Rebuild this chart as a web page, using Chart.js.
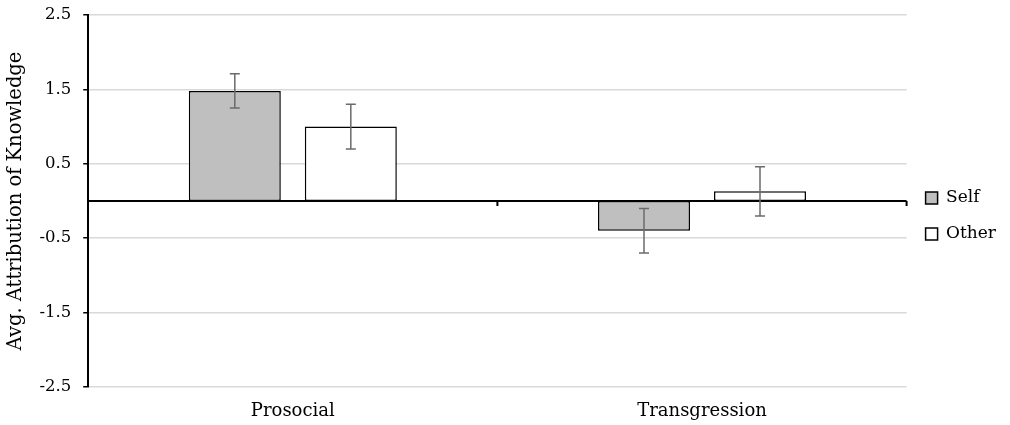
<!DOCTYPE html>
<html>
<head>
<meta charset="utf-8">
<script src="https://cdn.jsdelivr.net/npm/chart.js@4"></script>
<style>
  html, body { margin: 0; padding: 0; background: #fff; }
  #wrap { width: 1010px; height: 425px; }
</style>
</head>
<body>
<div id="wrap"><canvas id="chart"></canvas></div>
<script>
const categories = ['Prosocial', 'Transgression'];
const selfValues = [1.48, -0.40];
const selfErrors = [0.23, 0.30];
const otherValues = [1.00, 0.13];
const otherErrors = [0.30, 0.33];
const yTicks = [-2.5, -1.5, -0.5, 0.5, 1.5, 2.5];

const FONT = "'DejaVu Serif', 'Liberation Serif', serif";

// error bars + zero baseline with category ticks
const extras = {
    id: 'extras',
    afterDatasetsDraw(chart) {
        const ctx = chart.ctx;
        const y = chart.scales.y;
        const area = chart.chartArea;
        const y0 = y.getPixelForValue(0);

        ctx.save();
        ctx.strokeStyle = '#000';
        ctx.lineWidth = 2;
        ctx.beginPath();
        ctx.moveTo(area.left, y0);
        ctx.lineTo(area.right, y0);
        const n = categories.length;
        for (let i = 1; i <= n; i++) {
            const px = area.left + (area.right - area.left) * i / n;
            ctx.moveTo(px, y0);
            ctx.lineTo(px, y0 + 5);
        }
        ctx.stroke();

        ctx.strokeStyle = '#6b6b6b';
        ctx.lineWidth = 1.5;
        chart.data.datasets.forEach((ds, di) => {
            const meta = chart.getDatasetMeta(di);
            meta.data.forEach((bar, i) => {
                const v = ds.data[i];
                const e = ds.errors[i];
                const top = y.getPixelForValue(v + e);
                const bot = y.getPixelForValue(v - e);
                ctx.beginPath();
                ctx.moveTo(bar.x, top);
                ctx.lineTo(bar.x, bot);
                ctx.moveTo(bar.x - 5, top);
                ctx.lineTo(bar.x + 5, top);
                ctx.moveTo(bar.x - 5, bot);
                ctx.lineTo(bar.x + 5, bot);
                ctx.stroke();
            });
        });
        ctx.restore();
    }
};

new Chart(document.getElementById('chart'), {
    type: 'bar',
    data: {
        labels: categories,
        datasets: [{
            label: 'Self',
            data: selfValues,
            errors: selfErrors,
            backgroundColor: '#bfbfbf',
            borderColor: '#000',
            borderWidth: 1.5,
            borderSkipped: false
        }, {
            label: 'Other',
            data: otherValues,
            errors: otherErrors,
            backgroundColor: '#ffffff',
            borderColor: '#000',
            borderWidth: 1.5,
            borderSkipped: false
        }]
    },
    options: {
        responsive: true,
        maintainAspectRatio: false,
        animation: false,
        layout: { padding: { top: 15, right: 4, bottom: 8, left: 4 } },
        datasets: {
            bar: { categoryPercentage: 0.567, barPercentage: 0.793 }
        },
        plugins: {
            legend: {
                position: 'right',
                labels: {
                    boxWidth: 12,
                    boxHeight: 12,
                    padding: 19,
                    color: '#000',
                    font: { family: FONT, size: 17 }
                }
            },
            tooltip: { enabled: false }
        },
        scales: {
            x: {
                border: { display: false },
                grid: { display: false, drawTicks: false },
                afterFit(scale) {
                    scale.height = 30;
                    // labels hang below the shortened box, so don't clip them
                    scale._computeLabelArea = () => undefined;
                },
                ticks: {
                    color: '#000',
                    padding: 14,
                    font: { family: FONT, size: 18 }
                }
            },
            y: {
                min: -2.5,
                max: 2.5,
                afterBuildTicks(scale) {
                    scale.ticks = yTicks.map(v => ({ value: v }));
                },
                afterFit(scale) {
                    scale.paddingTop = 0;
                    scale.paddingBottom = 0;
                },
                border: { display: true, color: '#000', width: 2 },
                grid: {
                    color: '#d9d9d9',
                    lineWidth: 1.5,
                    tickColor: '#000',
                    tickLength: 5
                },
                ticks: {
                    color: '#000',
                    padding: 12,
                    font: { family: FONT, size: 16.5 },
                    callback: v => v.toFixed(1)
                },
                title: {
                    display: true,
                    text: 'Avg. Attribution of Knowledge',
                    color: '#000',
                    font: { family: FONT, size: 19.5 },
                    padding: { top: 0, bottom: 0 }
                }
            }
        }
    },
    plugins: [extras]
});
</script>
</body>
</html>
